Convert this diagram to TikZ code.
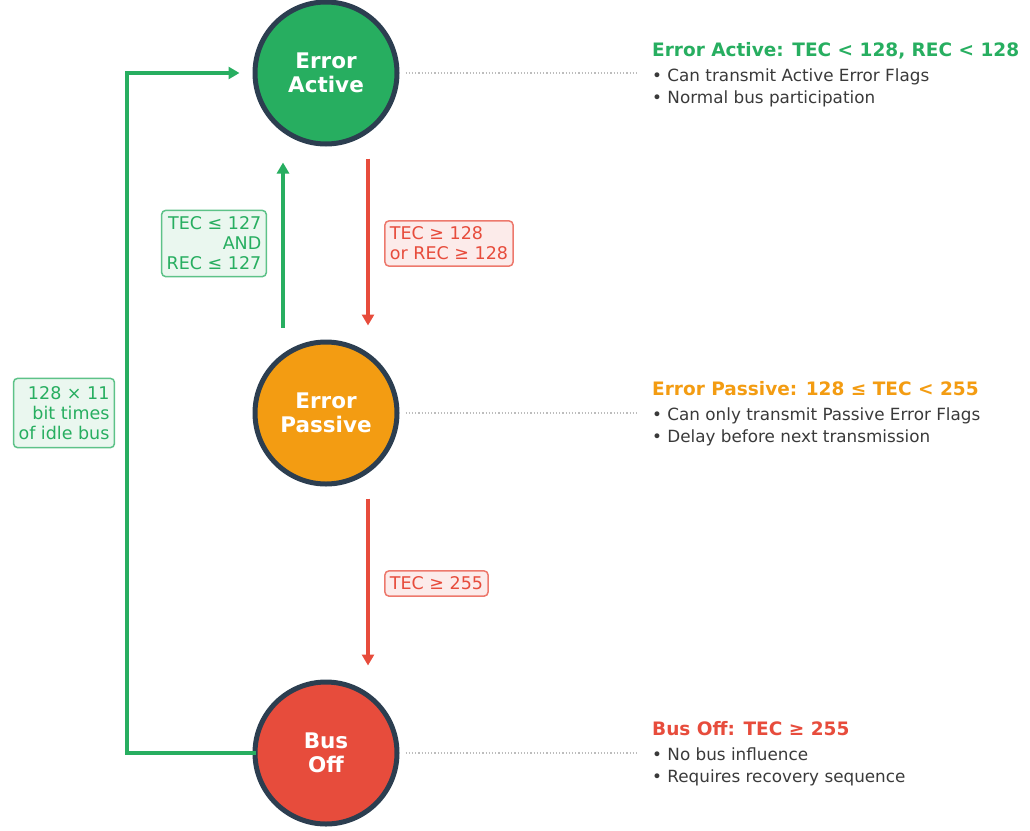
\documentclass[tikz,border=0pt]{standalone}
\usepackage{fontspec}
\setmainfont{DejaVu Sans}
\usetikzlibrary{arrows.meta}
\definecolor{cgreen}{HTML}{27AE60}
\definecolor{cgreenbg}{HTML}{EAF7EF}
\definecolor{cred}{HTML}{E74C3C}
\definecolor{credbg}{HTML}{FCEBEA}
\definecolor{corange}{HTML}{F39C12}
\definecolor{cdark}{HTML}{2C3E50}
\definecolor{ctext}{HTML}{3A3A3A}
\definecolor{cdot}{HTML}{BDBDBD}
\tikzset{
  state/.style={circle, draw=cdark, line width=5pt, minimum size=142pt, inner sep=0pt,
    text=white, font=\fontsize{21.5}{24}\selectfont\bfseries, align=center},
  redarrow/.style={draw=cred, line width=4pt, -{Triangle[length=11pt,width=12pt]}},
  greenarrow/.style={draw=cgreen, line width=4pt, -{Triangle[length=11pt,width=12pt]}},
  greenloop/.style={draw=cgreen, line width=4pt, line join=miter, -{Triangle[length=11pt,width=12pt]}},
  glabel/.style={draw=cgreen!75, fill=cgreenbg, line width=1.5pt, rounded corners=4pt, text=cgreen,
    font=\fontsize{17.5}{20}\selectfont, align=right, inner xsep=5pt, inner ysep=6.5pt},
  rlabel/.style={draw=cred!75, fill=credbg, line width=1.5pt, rounded corners=4pt, text=cred,
    font=\fontsize{17.5}{20}\selectfont, align=left, inner xsep=5pt, inner ysep=6pt},
  guide/.style={draw=cdot, line width=1.2pt, dotted},
  title/.style={anchor=base west, font=\fontsize{18.5}{22}\selectfont\bfseries, inner sep=0pt},
  bullets/.style={anchor=base west, text=ctext, font=\fontsize{16.8}{22}\selectfont, align=left, inner sep=0pt}
}
\begin{document}
\begin{tikzpicture}[x=1pt,y=-1pt]
\useasboundingbox (0,0) rectangle (1030,830);
% states
\node[state, fill=cgreen] (ea) at (326,73) {Error\\Active};
\node[state, fill=corange] (ep) at (326,413) {Error\\Passive};
\node[state, fill=cred] (bo) at (326,753) {Bus\\Off};
% transitions
\draw[redarrow] ([xshift=42pt,yshift=-12pt]ea.south) -- ([xshift=42pt,yshift=14pt]ep.north);
\draw[greenarrow] ([xshift=-43pt,yshift=12pt]ep.north) -- ([xshift=-43pt,yshift=-16pt]ea.south);
\draw[redarrow] ([xshift=42pt,yshift=-12pt]ep.south) -- ([xshift=42pt,yshift=14pt]bo.north);
\coordinate (loop) at (127,413);
\draw[greenloop] ([xshift=3pt]bo.west) -| (loop) |- ([xshift=-13pt]ea.west);
% transition labels
\node[glabel] (l1) at (214,243.5) {TEC ≤ 127\\AND\\REC ≤ 127};
\node[rlabel] (l2) at (449,243.5) {TEC ≥ 128\\or REC ≥ 128};
\node[glabel, inner ysep=8pt] (l3) at (64,413) {128 × 11\\bit times\\of idle bus};
\node[rlabel] (l4) at (436.5,583.5) {TEC ≥ 255};
% guides
\coordinate (g1) at (636,73);
\coordinate (g2) at (636,413);
\coordinate (g3) at (636,753);
\draw[guide] ([xshift=6pt]ea.east) -- (g1);
\draw[guide] ([xshift=6pt]ep.east) -- (g2);
\draw[guide] ([xshift=6pt]bo.east) -- (g3);
% descriptions
\node[title, text=cgreen] (t1) at (652,56) {Error Active: TEC < 128, REC < 128};
\node[bullets] (b1) at (652,103) {• Can transmit Active Error Flags\\• Normal bus participation};
\node[title, text=corange] (t2) at (652,395) {Error Passive: 128 ≤ TEC < 255};
\node[bullets] (b2) at (652,442) {• Can only transmit Passive Error Flags\\• Delay before next transmission};
\node[title, text=cred] (t3) at (652,735) {Bus Off: TEC ≥ 255};
\node[bullets] (b3) at (652,782) {• No bus influence\\• Requires recovery sequence};
\end{tikzpicture}
\end{document}
